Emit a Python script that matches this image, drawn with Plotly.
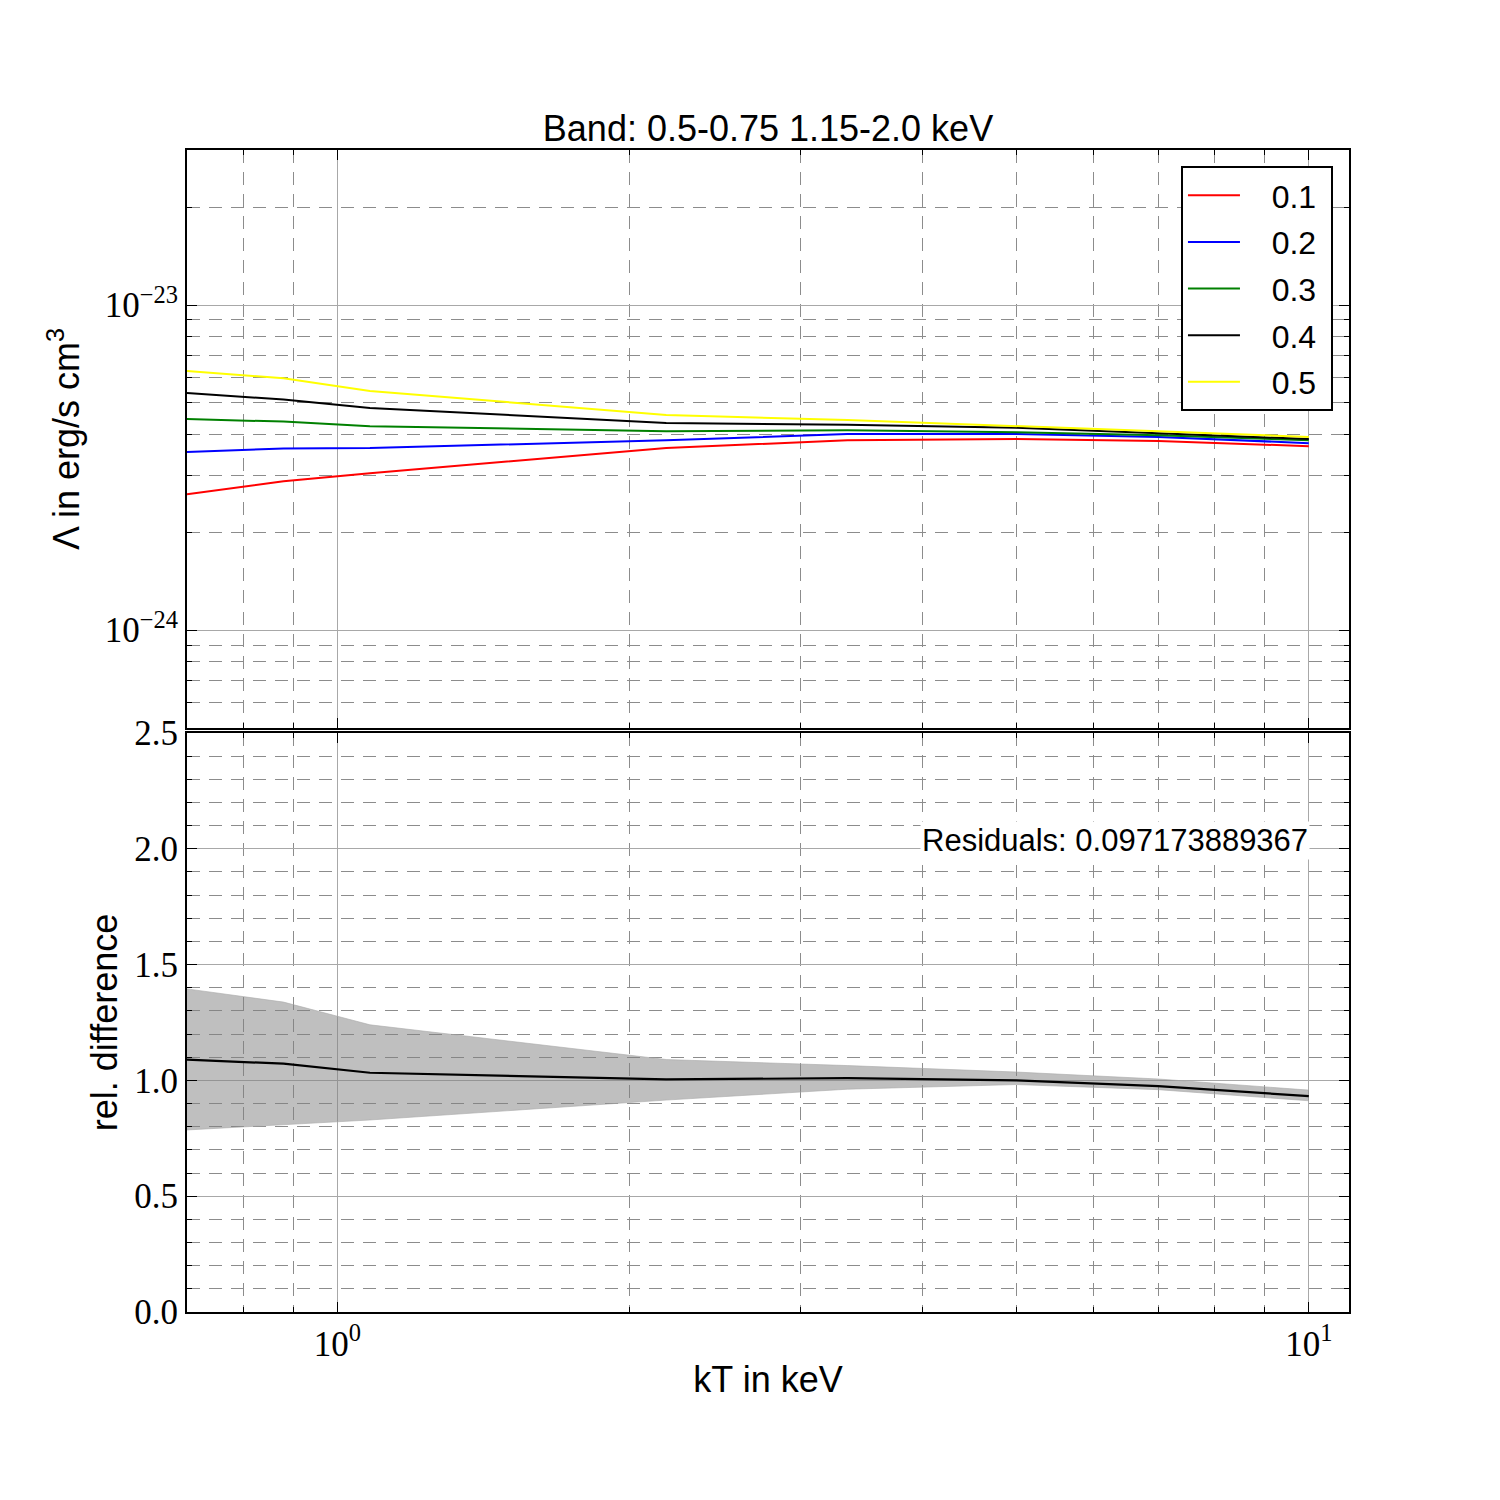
import plotly.graph_objects as go

# ---- data ----
kT = [0.7, 0.88, 1.08, 2.18, 3.35, 5.0, 7.0, 10.0]
series_labels = ['0.1', '0.2', '0.3', '0.4', '0.5']
lam_01 = [2.62e-24, 2.87e-24, 3.04e-24, 3.63e-24, 3.84e-24, 3.87e-24, 3.82e-24, 3.68e-24]
lam_02 = [3.53e-24, 3.62e-24, 3.63e-24, 3.84e-24, 4.01e-24, 4.01e-24, 3.93e-24, 3.76e-24]
lam_03 = [4.46e-24, 4.38e-24, 4.24e-24, 4.09e-24, 4.12e-24, 4.06e-24, 3.98e-24, 3.84e-24]
lam_04 = [5.36e-24, 5.12e-24, 4.82e-24, 4.34e-24, 4.28e-24, 4.19e-24, 4.03e-24, 3.87e-24]
lam_05 = [6.27e-24, 5.95e-24, 5.44e-24, 4.59e-24, 4.43e-24, 4.25e-24, 4.09e-24, 3.93e-24]
rel_mean = [1.09, 1.072, 1.033, 1.004, 1.01, 1.0, 0.975, 0.932]
rel_upper = [1.395, 1.338, 1.24, 1.09, 1.064, 1.036, 1.006, 0.958]
rel_lower = [0.786, 0.81, 0.829, 0.915, 0.962, 0.982, 0.96, 0.912]
residual_value = '0.097173889367'

x_major = [1, 10]
x_major_text = ['10<sup>0</sup>', '10<sup>1</sup>']
x_minor = [0.7, 0.8, 0.9, 2, 3, 4, 5, 6, 7, 8, 9]
y1_major = [1e-24, 1e-23]
y1_major_text = ['10<sup>\u221224</sup>', '10<sup>\u221223</sup>']
y1_minor = [6e-25, 7e-25, 8e-25, 9e-25] + [k * 1e-24 for k in range(2, 10)] + [2e-23, 3e-23]
y2_major = [0, 0.5, 1.0, 1.5, 2.0, 2.5]
y2_major_text = ['0.0', '0.5', '1.0', '1.5', '2.0', '2.5']
y2_minor = [0.1, 0.2, 0.3, 0.4, 0.6, 0.7, 0.8, 0.9, 1.1, 1.2, 1.3, 1.4, 1.6, 1.7, 1.8, 1.9, 2.1, 2.2, 2.3, 2.4]

colors = ['#ff0000', '#0000ff', '#008000', '#000000', '#ffff00']
NB = '\u00a0'

fig = go.Figure()
for lab, ys, c in zip(series_labels, [lam_01, lam_02, lam_03, lam_04, lam_05], colors):
    fig.add_trace(go.Scatter(x=kT, y=ys, mode='lines', name=NB * 3 + lab + NB, legendgroup=lab,
                             line=dict(color=c, width=2), xaxis='x', yaxis='y'))

fig.add_trace(go.Scatter(x=kT, y=rel_lower, mode='lines', showlegend=False,
                         line=dict(color='rgba(170,170,170,0.6)', width=1), xaxis='x2', yaxis='y2'))
fig.add_trace(go.Scatter(x=kT, y=rel_upper, mode='lines', showlegend=False, fill='tonexty',
                         fillcolor='rgba(128,128,128,0.5)',
                         line=dict(color='rgba(170,170,170,0.6)', width=1), xaxis='x2', yaxis='y2'))
fig.add_trace(go.Scatter(x=kT, y=rel_mean, mode='lines', showlegend=False,
                         line=dict(color='black', width=2.2), xaxis='x2', yaxis='y2'))

tick_font = dict(family='Liberation Serif', size=35, color='black')
title_font = dict(family='Liberation Sans', size=36, color='black')
DASH = '13px,9px'


def common(minor_vals):
    return dict(showline=True, linecolor='black', linewidth=2, mirror='allticks',
                ticks='inside', ticklen=10, tickwidth=1.2, tickcolor='black',
                showgrid=True, gridcolor='#a8a8a8', gridwidth=1, zeroline=False,
                tickfont=tick_font,
                minor=dict(tickmode='array', tickvals=minor_vals, ticks='inside', ticklen=5,
                           tickwidth=1, tickcolor='black', showgrid=True,
                           gridcolor='#8c8c8c', gridwidth=1, griddash=DASH))


xrange_log = [-0.1549, 1.0414]
top_dom = [0.5026, 1.0]
bot_dom = [0.0, 0.4983]

fig.update_layout(
    width=1500, height=1500,
    margin=dict(l=187, r=151, t=150, b=188),
    plot_bgcolor='white', paper_bgcolor='white',
    showlegend=True,
    title=dict(text='Band: 0.5-0.75 1.15-2.0 keV', font=title_font, x=0.5, xref='paper',
               xanchor='center', y=1, yref='paper', yanchor='bottom', pad=dict(b=9)),
    xaxis=dict(type='log', range=xrange_log, domain=[0, 1], anchor='y',
               tickvals=x_major, ticktext=['', ''], showticklabels=False, **common(x_minor)),
    yaxis=dict(type='log', range=[-24.301, -22.523], domain=top_dom, anchor='x',
               tickvals=y1_major, ticktext=y1_major_text,
               title=dict(text='\u039b in erg/s cm<sup>3</sup>', font=title_font, standoff=14),
               **common(y1_minor)),
    xaxis2=dict(type='log', range=xrange_log, domain=[0, 1], anchor='y2', matches='x',
                tickvals=x_major, ticktext=x_major_text,
                title=dict(text='kT in keV', font=title_font, standoff=4),
                **common(x_minor)),
    yaxis2=dict(range=[0, 2.5], domain=bot_dom, anchor='x2',
                tickvals=y2_major, ticktext=y2_major_text,
                title=dict(text='rel. difference', font=title_font, standoff=6),
                **common(y2_minor)),
    legend=dict(x=0.9862, xanchor='right', y=0.9862, yanchor='top', xref='paper', yref='paper',
                bgcolor='white', bordercolor='black', borderwidth=2,
                traceorder='grouped', tracegroupgap=2, itemwidth=52,
                font=dict(family='Liberation Sans', size=32, color='black')),
    annotations=[dict(text='Residuals: ' + residual_value, xref='paper', x=0.9664, xanchor='right',
                      yref='y2', y=2.035, yanchor='middle', showarrow=False, bgcolor='white',
                      font=dict(family='Liberation Sans', size=31, color='black'))],
)

fig.write_html('out.html')
